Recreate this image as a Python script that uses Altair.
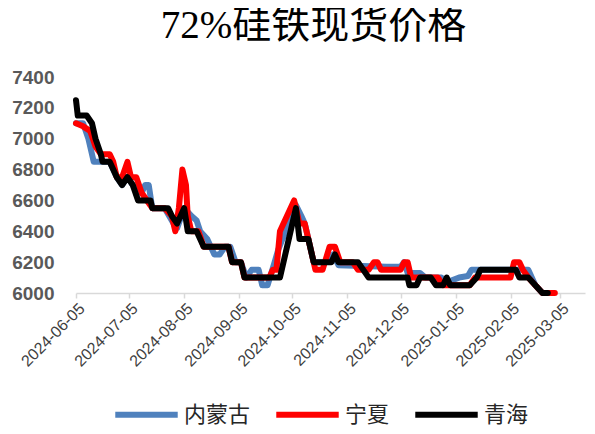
import altair as alt
import pandas as pd

# ---- data ----
series_names = ["内蒙古", "宁夏", "青海"]
series_colors = ["#4F81BD", "#FF0000", "#000000"]

nm_dates = ["2024-06-05","2024-06-09","2024-06-12","2024-06-14","2024-06-15","2024-06-24","2024-06-26","2024-06-28","2024-07-01","2024-07-04",
            "2024-07-07","2024-07-10","2024-07-12","2024-07-14","2024-07-16","2024-07-18","2024-07-25","2024-07-30","2024-08-01","2024-08-05",
            "2024-08-09","2024-08-12","2024-08-14","2024-08-18","2024-08-22","2024-08-25","2024-08-28","2024-08-31","2024-09-03","2024-09-06",
            "2024-09-09","2024-09-12","2024-09-16","2024-09-18","2024-09-21","2024-09-25","2024-09-27","2024-10-07","2024-10-10","2024-10-12",
            "2024-10-14","2024-10-17","2024-10-24","2024-10-28","2024-10-31","2024-11-27","2024-12-05","2024-12-07","2024-12-09","2024-12-16",
            "2024-12-19","2024-12-28","2024-12-31","2025-01-07","2025-01-12","2025-01-14","2025-02-15","2025-02-17","2025-02-19","2025-02-23",
            "2025-02-25"]
nm_vals = [7100,7100,7000,6900,6850,6850,6800,6750,6700,6750,
           6700,6650,6650,6700,6700,6550,6550,6450,6420,6550,
           6500,6470,6400,6350,6250,6250,6300,6300,6200,6200,
           6100,6150,6150,6050,6050,6200,6280,6570,6500,6450,
           6350,6200,6200,6250,6180,6170,6170,6200,6130,6130,
           6100,6100,6070,6100,6110,6150,6150,6100,6050,6000,
           6000]

nx_dates = ["2024-06-05","2024-06-09","2024-06-13","2024-06-16","2024-06-19","2024-06-24","2024-06-26","2024-06-28","2024-07-01","2024-07-04",
            "2024-07-06","2024-07-09","2024-07-12","2024-07-15","2024-07-18","2024-07-25","2024-07-29","2024-07-31","2024-08-02","2024-08-04",
            "2024-08-06","2024-08-07","2024-08-09","2024-08-13","2024-08-16","2024-08-30","2024-09-01","2024-09-06","2024-09-08","2024-09-22",
            "2024-09-24","2024-09-26","2024-09-28","2024-09-30","2024-10-06","2024-10-09","2024-10-12","2024-10-14","2024-10-16","2024-10-18",
            "2024-10-22","2024-10-26","2024-10-29","2024-11-01","2024-11-08","2024-11-11","2024-11-17","2024-11-20","2024-11-22","2024-11-24",
            "2024-12-05","2024-12-07","2024-12-09","2024-12-11","2024-12-26","2024-12-29","2025-01-13","2025-01-16","2025-02-05","2025-02-07",
            "2025-02-10","2025-02-12","2025-02-15","2025-02-19","2025-02-23","2025-03-02"]
nx_vals = [7100,7080,7050,6950,6900,6900,6850,6750,6750,6850,
           6750,6750,6650,6600,6550,6550,6500,6400,6550,6800,
           6700,6500,6400,6400,6300,6300,6200,6200,6100,6100,
           6150,6150,6400,6450,6600,6450,6450,6350,6250,6150,
           6150,6300,6300,6200,6200,6150,6150,6200,6200,6150,
           6150,6200,6200,6100,6100,6050,6050,6100,6100,6200,
           6200,6150,6100,6050,6000,6000]

qh_dates = ["2024-06-05","2024-06-06","2024-06-11","2024-06-14","2024-06-16","2024-06-19","2024-06-20","2024-06-24","2024-06-26","2024-06-28",
            "2024-07-01","2024-07-04","2024-07-07","2024-07-10","2024-07-17","2024-07-18","2024-07-27","2024-07-29","2024-08-01","2024-08-05",
            "2024-08-07","2024-08-12","2024-08-14","2024-08-16","2024-08-30","2024-09-01","2024-09-06","2024-09-08","2024-09-28","2024-10-07",
            "2024-10-09","2024-10-14","2024-10-17","2024-10-27","2024-10-29","2024-10-31","2024-11-11","2024-11-14","2024-11-17","2024-12-09",
            "2024-12-10","2024-12-14","2024-12-16","2024-12-22","2024-12-25","2024-12-29","2024-12-31","2025-01-02","2025-01-13","2025-01-17",
            "2025-01-19","2025-02-08","2025-02-10","2025-02-15","2025-02-19","2025-02-23","2025-02-26"]
qh_vals = [7250,7150,7150,7100,7000,6900,6850,6850,6800,6750,
           6700,6750,6700,6600,6600,6550,6550,6500,6450,6550,
           6400,6400,6350,6300,6300,6200,6200,6100,6100,6550,
           6350,6350,6200,6200,6250,6200,6200,6150,6100,6100,
           6050,6050,6100,6100,6050,6050,6100,6050,6050,6100,
           6150,6150,6100,6100,6050,6000,6000]

tick_dates = ["2024-06-05","2024-07-05","2024-08-05","2024-09-05","2024-10-05","2024-11-05",
              "2024-12-05","2025-01-05","2025-02-05","2025-03-05"]
y_ticks = [6000, 6200, 6400, 6600, 6800, 7000, 7200, 7400]
x_domain = ["2024-06-05", "2025-03-19"]

frames = []
for name, ds, vs in [(series_names[0], nm_dates, nm_vals),
                     (series_names[1], nx_dates, nx_vals),
                     (series_names[2], qh_dates, qh_vals)]:
    frames.append(pd.DataFrame({"date": ds, "price": vs, "region": name}))
df = pd.concat(frames, ignore_index=True)

cjk = "Noto Sans CJK SC"

base = alt.Chart(df).mark_line(strokeWidth=6, strokeCap="round", strokeJoin="round").encode(
    x=alt.X("date:T",
            scale=alt.Scale(domain=x_domain, nice=False),
            axis=alt.Axis(values=tick_dates, format="%Y-%m-%d", labelAngle=-45,
                          labelFontSize=16, labelColor="#404040", labelFont="Liberation Sans",
                          domainColor="#D9D9D9", domainWidth=1.5, tickColor="#D9D9D9",
                          tickWidth=1.5, tickSize=5, grid=False, title=None,
                          labelPadding=2, labelOverlap=False)),
    y=alt.Y("price:Q",
            scale=alt.Scale(domain=[6000, 7400], nice=False, zero=False),
            axis=alt.Axis(values=y_ticks, format="d", labelFontSize=19, labelFontWeight="bold",
                          labelColor="#595959", labelFont="Liberation Sans", domain=False,
                          ticks=False, grid=False, title=None, labelPadding=22)),
    color=alt.Color("region:N",
                    scale=alt.Scale(domain=series_names, range=series_colors),
                    legend=alt.Legend(title=None, orient="none", direction="horizontal",
                                      legendX=36, legendY=303, symbolType="stroke",
                                      symbolSize=3900, symbolStrokeWidth=6,
                                      labelFontSize=22, labelFont=cjk, labelColor="#262626",
                                      labelBaseline="middle",
                                      labelOffset=3, columnPadding=13, padding=0,
                                      labelLimit=200)),
)

layers = [base.transform_filter(alt.datum.region == n) for n in series_names]

chart = alt.layer(*layers).properties(
    width=509,
    height=216,
    padding={"left": 68, "top": 69, "right": 2, "bottom": 133},
    autosize=alt.AutoSizeParams(type="none"),
    title=alt.Title("72%硅铁现货价格", font="Liberation Serif, " + cjk, fontSize=39,
                    fontWeight="normal", color="#000000", anchor="middle", dx=-17, offset=22),
).configure_view(stroke=None)

chart.save("out.html", embed_options={"renderer": "svg", "actions": False})
